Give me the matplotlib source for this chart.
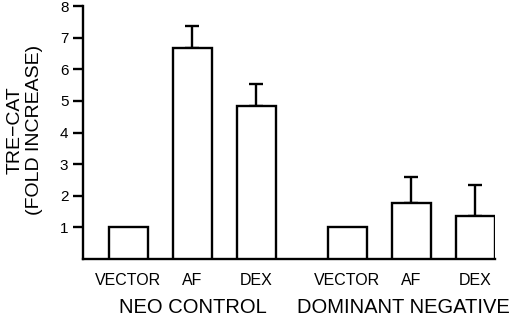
import numpy as np
import matplotlib
matplotlib.use('Agg')
import matplotlib.pyplot as plt
from matplotlib.transforms import blended_transform_factory

plt.rcParams['font.family'] = ['Liberation Sans', 'DejaVu Sans']

# data
bar_labels = ['VECTOR', 'AF', 'DEX', 'VECTOR', 'AF', 'DEX']
values = [1.0, 6.68, 4.84, 1.0, 1.77, 1.36]
errors = [0.0, 0.69, 0.70, 0.0, 0.83, 0.98]
groups = ['NEO CONTROL', 'DOMINANT NEGATIVE']
yticks = [1, 2, 3, 4, 5, 6, 7, 8]

pos = np.array([0, 1, 2, 3.42, 4.42, 5.42])

fig = plt.figure(figsize=(5.2, 3.17), dpi=100)
ax = fig.add_axes([83/520, 1-259/317, (495-83)/520, (259-6)/317])

lw = 1.7
ax.bar(pos, values, width=0.61, color='white', edgecolor='black', linewidth=lw, zorder=3)

# only upward error bars, skip the vector bars
has_err = np.array(errors) > 0
ax.errorbar(pos[has_err], np.array(values)[has_err],
            yerr=[np.zeros(has_err.sum()), np.array(errors)[has_err]],
            fmt='none', ecolor='black', elinewidth=lw, capsize=5, capthick=lw, zorder=2)

ax.set_xlim(-0.71, 5.73)
ax.set_ylim(0, 8)
ax.set_yticks(yticks)
ax.set_yticklabels([str(t) for t in yticks], fontsize=11)
ax.set_xticks(pos)
ax.set_xticklabels(bar_labels, fontsize=11.5)
ax.tick_params(axis='x', length=0, pad=10)
ax.tick_params(axis='y', length=7.5, width=lw, pad=3, direction='out')

for s in ['top', 'right']:
    ax.spines[s].set_visible(False)
for s in ['left', 'bottom']:
    ax.spines[s].set_linewidth(lw)

tr = blended_transform_factory(ax.transData, ax.transAxes)
ax.text(1.0, -0.19, groups[0], transform=tr, ha='center', va='center', fontsize=14.5)
ax.text(4.29, -0.19, groups[1], transform=tr, ha='center', va='center', fontsize=14.5)

fig.text(25/520, 1-130/317, 'TRE\u2212CAT\n(FOLD INCREASE)', rotation=90,
         ha='center', va='center', multialignment='center', fontsize=14, linespacing=1.2)

fig.savefig('out.png', dpi=100)
